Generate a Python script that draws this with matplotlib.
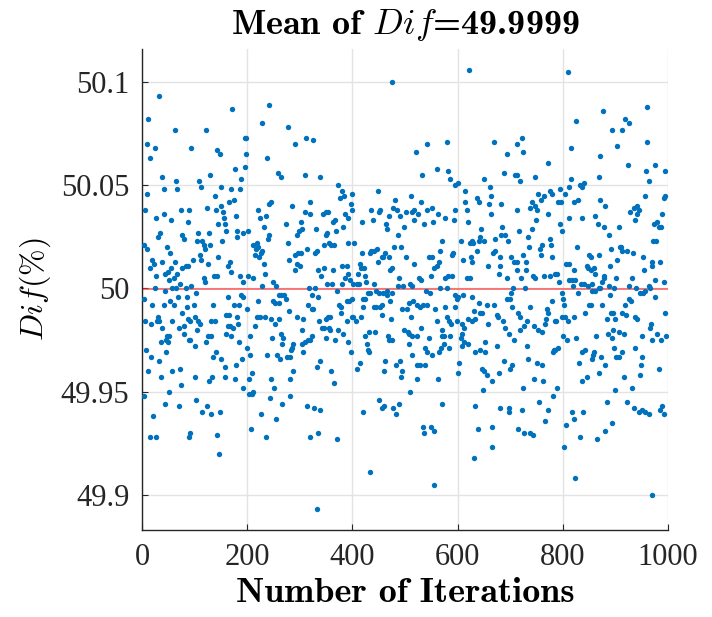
import numpy as np
import matplotlib
matplotlib.use("Agg")
import matplotlib.pyplot as plt
from matplotlib.ticker import FuncFormatter

# (iteration, deviation from 50 in units of 0.001 %)
pts_a = [(33,93),(12,82),(62,77),(9,70),(24,68),(15,63),(39,54),(64,52),(42,48),(67,48),
         (10,46),(6,38),(75,38),(89,38),(27,34),(41,36),(56,33),(87,32),(34,27),(31,25),
         (77,26),(80,24),(4,21),(9,19),(47,20),(20,14),(38,13),(63,13),(54,17),(23,12),
         (15,10),(83,11),(87,11),(55,10),(77,10),(50,8),(43,7),(61,5),(27,6),(67,7),
         (72,2),(51,4),(58,0),(65,0),(44,-1),(24,0),(84,0),(86,-4),(68,-4),(3,-5),
         (53,-6),(20,-8),(41,-8),(60,-8),(85,-9),(76,-12),(30,-14),(6,-16),(18,-17),(28,-16),
         (32,-16),(39,-19),(57,-16),(79,-18),(70,-19),(88,-15),(80,-22),(47,-23),(51,-23),(45,-25),
         (50,-26),(36,-26),(89,-25),(7,-30),(45,-31),(18,-33),(32,-35),(12,-40),(58,-40),(73,-39),
         (36,-43),(74,-47),(52,-50),(4,-52),(44,-56),(70,-57),(21,-62),(16,-72),(26,-72),(89,-72)]
pts_b = [(172,87),(121,77),(94,68),(143,67),(148,65),(195,73),(177,58),(195,59),(129,55),(108,52),
         (188,53),(113,49),(150,49),(169,48),(186,48),(138,45),(123,39),(140,38),(151,40),(154,37),
         (165,42),(174,43),(155,34),(158,31),(145,31),(179,35),(181,28),(181,25),(159,28),(193,27),
         (106,27),(127,27),(153,23),(104,23),(115,23),(117,21),(130,21),(120,19),(110,16),(112,14),
         (97,14),(125,12),(145,15),(167,13),(163,11),(170,8),(137,6),(143,6),(187,6),(192,3),
         (118,5),(119,3),(94,1),(102,-2),(163,-4),(188,-3),(193,-4),(98,-8),(135,-8),(174,-8),
         (184,-8),(160,-13),(165,-13),(181,-14),(101,-14),(91,-16),(107,-16),(110,-17),(132,-16),(138,-16),
         (163,-18),(168,-18),(173,-19),(183,-17),(105,-20),(126,-23),(131,-23),(160,-22),(170,-23),(92,-25),
         (122,-26),(100,-28),(184,-26),(135,-33),(140,-31),(150,-34),(178,-37),(190,-34),(157,-38),(101,-43),
         (134,-43),(128,-45),(157,-43),(177,-44),(193,-48),(103,-54),(124,-57),(115,-60),(132,-61),(149,-60),
         (91,-70),(142,-71),(146,-80)]
pts_c = [(241,89),(229,80),(277,78),(198,73),(291,70),(197,65),(237,63),(259,56),(264,54),(246,42),
         (241,41),(285,40),(221,38),(225,34),(235,35),(232,30),(273,31),(202,28),(242,26),(294,26),
         (299,28),(240,24),(277,22),(218,22),(211,21),(221,20),(216,19),(229,18),(226,17),(214,16),
         (223,15),(280,14),(291,16),(297,17),(295,12),(290,9),(232,12),(233,7),(202,6),(211,5),
         (228,1),(249,3),(254,1),(260,-3),(265,-3),(270,-3),(273,-5),(250,-6),(253,-7),(261,-7),
         (220,-6),(200,-10),(279,-11),(294,-14),(218,-14),(225,-14),(234,-14),(245,-15),(215,-18),(253,-17),
         (260,-15),(265,-22),(269,-24),(248,-24),(205,-23),(266,-27),(287,-27),(286,-29),(284,-30),(200,-29),
         (281,-33),(275,-33),(257,-32),(263,-34),(238,-32),(206,-32),(287,-40),(282,-44),(209,-41),(203,-44),
         (245,-44),(251,-48),(211,-50),(209,-51),(204,-51),(281,-52),(244,-53),(266,-56),(227,-61),(254,-63),
         (208,-68),(235,-72)]
pts_d = [(312,73),(325,72),(309,55),(339,54),(373,50),(380,47),(385,45),(377,44),(397,41),(399,38),
         (320,42),(310,37),(319,36),(344,36),(350,37),(354,37),(386,36),(391,34),(363,32),(367,33),
         (302,32),(304,29),(330,29),(352,27),(349,26),(369,28),(383,30),(391,22),(355,22),(360,21),
         (366,21),(346,21),(313,19),(329,17),(332,18),(302,17),(301,11),(346,10),(363,9),(380,11),
         (389,11),(334,9),(340,6),(392,7),(386,5),(352,2),(362,2),(381,2),(396,4),(318,0),
         (329,0),(370,-1),(323,-3),(335,-4),(374,-8),(378,-9),(389,-6),(393,-6),(399,-5),(316,-8),
         (324,-10),(326,-10),(378,-12),(307,-15),(358,-14),(353,-14),(349,-15),(337,-16),(389,-16),(399,-14),
         (342,-19),(346,-19),(356,-19),(357,-20),(372,-20),(383,-22),(304,-20),(349,-24),(323,-23),(319,-25),
         (315,-25),(310,-26),(305,-27),(367,-25),(392,-26),(307,-31),(397,-31),(338,-35),(333,-38),(359,-40),
         (365,-46),(314,-57),(327,-58),(339,-59),(335,-70),(320,-72),(371,-73),(332,-107)]
pts_e = [(475,100),(448,47),(481,43),(399,46),(453,38),(478,39),(484,38),(470,35),(490,35),(436,38),
         (439,33),(451,37),(463,31),(466,29),(498,30),(418,32),(487,26),(480,20),(493,20),(403,22),
         (419,17),(441,18),(446,19),(433,17),(436,18),(458,15),(462,17),(456,15),(470,15),(475,10),
         (472,9),(448,13),(414,12),(423,10),(417,10),(424,6),(410,7),(408,2),(401,2),(413,2),
         (425,3),(441,2),(489,5),(496,1),(487,1),(429,-2),(434,-2),(451,-2),(465,-1),(466,-3),
         (476,-2),(444,-1),(458,-2),(420,-5),(424,-5),(495,-10),(420,-9),(441,-9),(444,-9),(453,-9),
         (456,-8),(471,-6),(457,-13),(474,-15),(417,-14),(406,-16),(401,-14),(498,-20),(443,-21),(431,-21),
         (424,-23),(467,-23),(469,-25),(476,-25),(428,-27),(430,-30),(432,-31),(415,-36),(409,-39),(462,-35),
         (460,-40),(491,-35),(482,-37),(495,-40),(493,-43),(450,-54),(420,-60),(456,-58),(460,-57),(478,-58),
         (489,-56),(482,-61),(433,-89)]
pts_f = [(520,66),(542,70),(580,71),(532,55),(560,58),(581,57),(585,53),(600,51),(596,50),(511,45),
         (531,42),(502,37),(514,37),(518,38),(525,36),(518,33),(536,31),(542,38),(552,39),(553,32),
         (563,36),(576,34),(593,33),(596,38),(570,23),(567,18),(591,17),(589,16),(546,15),(551,15),
         (501,15),(518,12),(564,13),(561,11),(556,10),(549,6),(527,5),(530,4),(577,5),(582,6),
         (589,6),(509,2),(514,1),(567,0),(579,0),(539,-1),(548,-2),(595,-3),(599,-5),(601,-4),
         (508,-7),(515,-6),(523,-8),(528,-9),(535,-8),(541,-8),(558,-10),(577,-9),(595,-9),(504,-10),
         (511,-14),(579,-14),(561,-16),(584,-16),(587,-17),(599,-16),(505,-21),(508,-22),(530,-19),(570,-20),
         (574,-23),(571,-23),(586,-23),(523,-23),(514,-23),(546,-24),(508,-27),(538,-29),(583,-29),(574,-27),
         (568,-29),(514,-32),(542,-31),(551,-32),(565,-31),(603,-36),(600,-41),(523,-37),(529,-37),(538,-37),
         (522,-44),(562,-44),(510,-50),(570,-56),(534,-67),(550,-67),(537,-70),(555,-69),(556,-95)]
pts_g = [(622,106),(669,71),(693,65),(688,56),(709,55),(650,53),(661,49),(614,47),(636,44),(664,45),
         (614,42),(640,42),(660,41),(683,41),(618,38),(663,36),(620,32),(645,29),(685,30),(683,26),
         (691,26),(696,23),(607,23),(642,25),(641,23),(651,23),(628,23),(623,22),(630,22),(671,24),
         (637,18),(667,17),(672,18),(681,15),(610,14),(625,15),(628,13),(702,15),(708,13),(658,11),
         (680,11),(678,7),(693,5),(617,5),(624,5),(705,0),(702,-2),(699,-5),(694,-5),(611,-3),
         (627,-4),(640,-7),(655,-8),(669,-8),(646,-12),(643,-12),(631,-11),(704,-9),(619,-15),(627,-16),
         (634,-15),(609,-17),(613,-19),(657,-17),(674,-13),(676,-14),(686,-16),(690,-19),(698,-22),(707,-25),
         (608,-22),(607,-24),(612,-26),(619,-27),(608,-28),(652,-26),(675,-28),(634,-31),(643,-30),(653,-31),
         (688,-35),(704,-37),(699,-39),(647,-39),(650,-40),(656,-42),(665,-45),(679,-41),(648,-49),(633,-57),
         (681,-58),(698,-58),(697,-60),(638,-68),(666,-67),(632,-82),(665,-77)]
pts_h = [(809,105),(722,73),(712,70),(724,66),(771,61),(712,55),(718,52),(748,54),(753,46),(765,45),
         (776,47),(780,46),(794,48),(805,46),(812,49),(758,43),(747,40),(741,42),(737,39),(791,42),
         (796,42),(772,36),(713,38),(750,33),(751,38),(717,28),(742,29),(734,25),(736,20),(795,31),
         (798,28),(812,34),(776,24),(777,21),(761,21),(756,19),(758,16),(779,15),(725,16),(730,13),
         (713,13),(712,9),(720,5),(731,9),(743,6),(747,5),(765,6),(775,6),(785,7),(789,7),
         (793,3),(807,12),(812,12),(812,4),(729,0),(799,-2),(801,-5),(803,-8),(779,-6),(738,-9),
         (714,-12),(719,-14),(732,-16),(727,-18),(718,-20),(770,-10),(771,-12),(768,-15),(767,-17),(746,-18),
         (753,-20),(760,-21),(788,-16),(785,-16),(799,-14),(804,-14),(810,-16),(800,-23),(808,-25),(732,-28),
         (734,-34),(784,-30),(786,-30),(790,-29),(781,-31),(751,-36),(761,-37),(745,-44),(763,-45),(789,-48),
         (781,-52),(725,-48),(755,-55),(771,-59),(766,-64),(723,-59),(806,-66),(715,-68),(738,-70),(727,-70),
         (744,-71),(803,-77)]
pts_i = [(876,86),(826,81),(894,77),(816,68),(903,69),(871,64),(869,54),(816,53),(832,50),(837,49),
         (841,51),(822,42),(828,43),(870,43),(881,40),(837,34),(861,35),(866,31),(879,30),(887,26),
         (906,30),(827,20),(892,19),(908,20),(850,16),(854,15),(869,16),(890,11),(904,14),(822,9),
         (846,11),(848,10),(859,10),(854,9),(862,7),(878,6),(879,5),(874,3),(902,5),(824,4),
         (817,4),(819,1),(835,2),(840,2),(847,1),(856,2),(856,-1),(861,-1),(868,0),(871,0),
         (888,1),(898,0),(889,-3),(829,-2),(850,-8),(854,-8),(875,-8),(843,-12),(891,-12),(895,-12),
         (884,-15),(899,-15),(821,-14),(826,-24),(864,-23),(885,-22),(893,-24),(895,-20),(906,-21),(898,-29),
         (836,-31),(843,-30),(857,-32),(860,-31),(855,-34),(873,-33),(881,-37),(831,-36),(902,-33),(906,-33),
         (846,-43),(868,-41),(836,-45),(900,-49),(884,-55),(817,-60),(838,-60),(821,-63),(893,-65),(880,-69),
         (833,-72),(865,-73),(823,-92)]
pts_j = [(960,88),(919,82),(926,80),(913,77),(961,71),(924,60),(958,57),(976,60),(994,57),(963,52),
         (956,45),(992,44),(995,45),(936,39),(927,37),(942,40),(944,38),(941,36),(938,33),(989,36),
         (974,31),(979,32),(983,30),(987,30),(911,20),(913,18),(971,23),(978,23),(922,18),(933,17),
         (952,15),(969,11),(970,13),(985,13),(975,4),(955,9),(931,5),(926,1),(992,3),(940,0),
         (947,-2),(952,-2),(957,-1),(963,1),(965,0),(976,-4),(926,-5),(930,-6),(918,-8),(913,-12),
         (921,-13),(937,-14),(941,-15),(994,-12),(968,-17),(966,-19),(916,-22),(951,-23),(969,-25),(979,-22),
         (987,-25),(997,-23),(912,-31),(938,-29),(951,-33),(949,-37),(946,-42),(982,-39),(917,-43),(931,-48),
         (923,-55),(935,-58),(944,-60),(950,-59),(956,-60),(963,-61),(988,-57),(984,-59),(992,-61),(970,-100)]

mean_dif = 49.9999
title_txt = 'Mean of $Dif$=49.9999'
xlabel_txt = 'Number of Iterations'
xticks = [0, 200, 400, 600, 800, 1000]
yticks = [49.9, 49.95, 50, 50.05, 50.1]

all_pts = pts_a + pts_b + pts_c + pts_d + pts_e + pts_f + pts_g + pts_h + pts_i + pts_j
it = np.array([p[0] for p in all_pts])
dif = 50 + np.array([p[1] for p in all_pts]) / 1000.0

plt.rcParams['mathtext.fontset'] = 'cm'

fig = plt.figure(figsize=(7.12, 6.17), dpi=100)
ax = fig.add_axes([0.1994, 0.141, 0.7388, 0.7796])

ax.scatter(it, dif, s=15, color='#0072BD', linewidths=0, zorder=3)
ax.axhline(mean_dif, color='#ff3030', lw=1.1, alpha=0.8, zorder=2)

ax.set_xlim(0, 1000)
ax.set_ylim(49.883, 50.116)
ax.set_xticks(xticks)
ax.set_yticks(yticks)
ax.yaxis.set_major_formatter(FuncFormatter(lambda v, p: '{:g}'.format(round(v, 4))))
ax.grid(True, color='#e3e3e3', lw=1.0, zorder=0)
ax.set_axisbelow(True)

for s in ['top', 'right']:
    ax.spines[s].set_visible(False)
for s in ['left', 'bottom']:
    ax.spines[s].set_color('#262626')
    ax.spines[s].set_linewidth(1.0)

ax.tick_params(direction='in', length=4, width=0.8, colors='#262626', pad=9)
for lab in ax.get_xticklabels() + ax.get_yticklabels():
    lab.set_fontfamily('Liberation Serif')
    lab.set_fontsize(22)

ax.set_title(title_txt, fontsize=26, fontfamily='cmb10', pad=11)
ax.set_xlabel(xlabel_txt, fontsize=26, fontfamily='cmb10', labelpad=5)
ax.set_ylabel(r'$Dif(\%)$', fontsize=23, labelpad=6)

fig.savefig('out.png', dpi=100)
